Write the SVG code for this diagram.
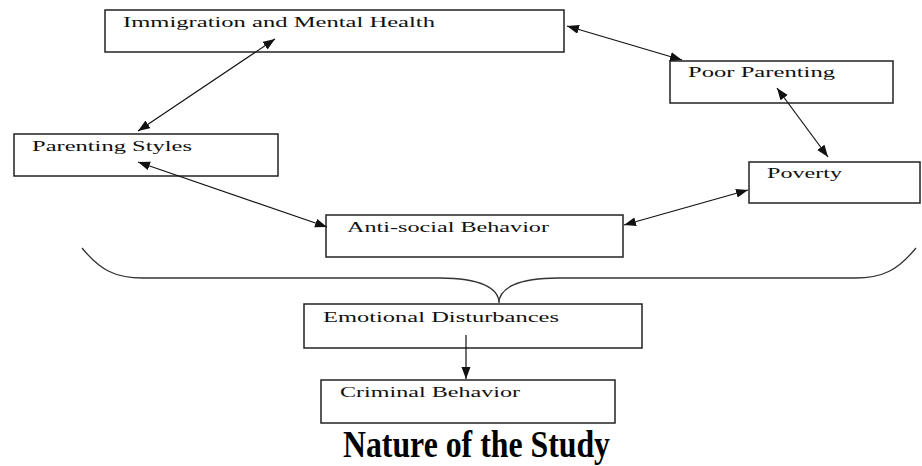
<svg xmlns="http://www.w3.org/2000/svg" width="922" height="466" viewBox="0 0 922 466">
<style>
.box{fill:#fff;stroke:#222;stroke-width:1.5}
.lbl{font-family:"Liberation Serif","Times New Roman",serif;font-size:15px;fill:#111}
.con{stroke:#111;stroke-width:1.2;fill:none}
.brace{stroke:#333;stroke-width:1.3;fill:none}
</style>
<defs>
<marker id="ah" markerUnits="userSpaceOnUse" markerWidth="13" markerHeight="10" refX="12" refY="4.5" orient="auto-start-reverse">
<path d="M0,0 L12,4.5 L0,9 z" fill="#111"/>
</marker>
</defs>
<rect width="922" height="466" fill="#fff"/>
<g id="immigration"><rect class="box" x="105" y="10" width="459" height="42"/><text class="lbl" x="123" y="27" textLength="312" lengthAdjust="spacingAndGlyphs">Immigration and Mental Health</text></g>
<g id="poor-parenting"><rect class="box" x="670" y="61" width="223" height="42"/><text class="lbl" x="688" y="77" textLength="147" lengthAdjust="spacingAndGlyphs">Poor Parenting</text></g>
<g id="poverty"><rect class="box" x="749" y="162" width="171" height="41"/><text class="lbl" x="767" y="178" textLength="75" lengthAdjust="spacingAndGlyphs">Poverty</text></g>
<g id="parenting-styles"><rect class="box" x="14" y="134" width="264" height="42"/><text class="lbl" x="32" y="151" textLength="160" lengthAdjust="spacingAndGlyphs">Parenting Styles</text></g>
<g id="anti-social"><rect class="box" x="326" y="215" width="297" height="42"/><text class="lbl" x="347" y="232" textLength="202" lengthAdjust="spacingAndGlyphs">Anti-social Behavior</text></g>
<g id="emotional"><rect class="box" x="304" y="304" width="338" height="44"/><text class="lbl" x="323" y="322" textLength="236" lengthAdjust="spacingAndGlyphs">Emotional Disturbances</text></g>
<g id="criminal"><rect class="box" x="321" y="380" width="294" height="43"/><text class="lbl" x="340" y="397" textLength="180" lengthAdjust="spacingAndGlyphs">Criminal Behavior</text></g>
<g id="connectors">
<line class="con" x1="275" y1="39" x2="138" y2="131" marker-start="url(#ah)" marker-end="url(#ah)"/>
<line class="con" x1="567" y1="26" x2="682" y2="60" marker-start="url(#ah)" marker-end="url(#ah)"/>
<line class="con" x1="777" y1="88" x2="828" y2="157" marker-start="url(#ah)" marker-end="url(#ah)"/>
<line class="con" x1="138" y1="162" x2="327" y2="227" marker-start="url(#ah)" marker-end="url(#ah)"/>
<line class="con" x1="624" y1="225" x2="748" y2="190" marker-start="url(#ah)" marker-end="url(#ah)"/>
<line class="con" x1="466" y1="335" x2="466" y2="379" marker-end="url(#ah)"/>
<path class="brace" d="M82,248 C100,270 115,278 143,278 L440,278 C480,278 499,288 499,303 C499,288 518,278 558,278 L855,278 C883,278 898,270 916,248"/>
</g>
<text x="0" y="0" transform="translate(343,457) scale(1,1.18)" font-family="'Liberation Serif','Times New Roman',serif" font-weight="bold" font-size="32" fill="#000" textLength="267" lengthAdjust="spacingAndGlyphs">Nature of the Study</text>
</svg>
